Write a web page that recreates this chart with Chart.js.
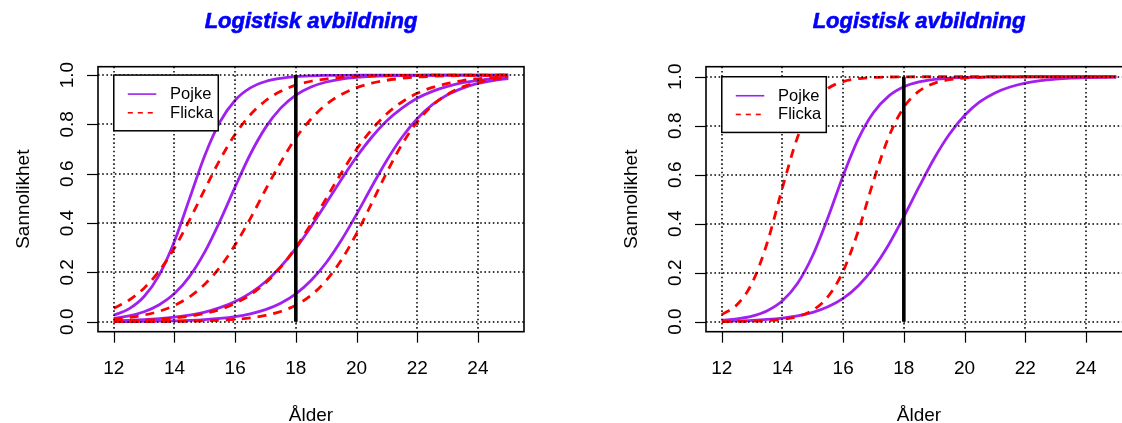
<!DOCTYPE html>
<html>
<head>
<meta charset="utf-8">
<script src="https://cdn.jsdelivr.net/npm/chart.js@4.4.1/dist/chart.umd.min.js"></script>
<style>
html, body { margin: 0; padding: 0; background: #fff; overflow: hidden; }
#wrap { position: relative; width: 1122px; height: 423px; overflow: hidden; }
canvas { position: absolute; top: 0; }
#left { left: 0; }
#right { left: 608px; }
</style>
</head>
<body>
<div id="wrap">
  <canvas id="left" width="608" height="423"></canvas>
  <canvas id="right" width="608" height="423"></canvas>
</div>
<script>
const ages = [12, 12.5, 13, 13.5, 14, 14.5, 15, 15.5, 16, 16.5, 17, 17.5, 18, 18.5,
              19, 19.5, 20, 20.5, 21, 21.5, 22, 22.5, 23, 23.5, 24, 24.5, 25];
const xTicks = [12, 14, 16, 18, 20, 22, 24];
const yTicks = [0, 0.2, 0.4, 0.6, 0.8, 1.0];
const yTickLabels = ['0.0', '0.2', '0.4', '0.6', '0.8', '1.0'];
const titleText = 'Logistisk avbildning';
const xTitle = 'Ålder';
const yTitle = 'Sannolikhet';
const legendLabels = ['Pojke', 'Flicka'];
const cutAge = 18;

// left panel
const leftPojke1 = [0.026, 0.052, 0.102, 0.190, 0.326, 0.500, 0.674, 0.810, 0.898, 0.948, 0.974, 0.987, 0.994, 0.997,
                    0.9985, 0.999, 0.9995, 0.9997, 0.9998, 0.9999, 1, 1, 1, 1, 1, 1, 1];
const leftPojke2 = [0.0135, 0.0234, 0.0403, 0.0685, 0.114, 0.184, 0.283, 0.408, 0.547, 0.679, 0.787, 0.866, 0.919, 0.952,
                    0.972, 0.984, 0.991, 0.995, 0.997, 0.998, 0.999, 0.9994, 0.9997, 0.9998, 0.9999, 1, 1];
const leftPojke3 = [0.0039, 0.0058, 0.0085, 0.0125, 0.0183, 0.0269, 0.039, 0.057, 0.082, 0.116, 0.162, 0.223, 0.297, 0.385,
                    0.480, 0.577, 0.668, 0.748, 0.815, 0.866, 0.906, 0.934, 0.954, 0.969, 0.979, 0.985, 0.990];
const leftPojke4 = [0.0006, 0.0009, 0.0014, 0.0022, 0.0035, 0.0054, 0.0085, 0.0133, 0.0206, 0.032, 0.049, 0.075, 0.113, 0.167,
                    0.239, 0.330, 0.435, 0.547, 0.655, 0.748, 0.823, 0.880, 0.920, 0.947, 0.966, 0.978, 0.986];
const leftFlicka1 = [0.055, 0.087, 0.136, 0.206, 0.299, 0.413, 0.537, 0.657, 0.760, 0.839, 0.896, 0.934, 0.959, 0.975,
                     0.984, 0.991, 0.994, 0.9965, 0.998, 0.9987, 0.999, 0.9995, 0.9997, 0.9998, 0.9999, 1, 1];
const leftFlicka2 = [0.0109, 0.0171, 0.0271, 0.0423, 0.066, 0.101, 0.152, 0.221, 0.312, 0.418, 0.535, 0.646, 0.745, 0.822,
                     0.881, 0.921, 0.949, 0.967, 0.979, 0.987, 0.992, 0.995, 0.997, 0.998, 0.9987, 0.9992, 0.9995];
const leftFlicka3 = [0.0028, 0.0042, 0.0064, 0.0097, 0.0148, 0.0223, 0.0336, 0.050, 0.0744, 0.109, 0.157, 0.221, 0.301, 0.397,
                     0.500, 0.603, 0.699, 0.779, 0.843, 0.891, 0.926, 0.950, 0.966, 0.978, 0.985, 0.990, 0.9936];
const leftFlicka4 = [0.0002, 0.0003, 0.0004, 0.0007, 0.0012, 0.002, 0.0034, 0.0056, 0.0093, 0.0154, 0.0253, 0.0415, 0.067, 0.107,
                     0.167, 0.250, 0.357, 0.480, 0.606, 0.719, 0.810, 0.877, 0.922, 0.952, 0.970, 0.982, 0.989];

// right panel
const rightPojke1 = [0.0059, 0.0117, 0.023, 0.045, 0.0855, 0.157, 0.271, 0.425, 0.596, 0.746, 0.854, 0.921, 0.959, 0.979,
                     0.989, 0.9946, 0.9973, 0.9986, 0.9993, 0.9997, 1, 1, 1, 1, 1, 1, 1];
const rightPojke2 = [0.0021, 0.0034, 0.0055, 0.009, 0.0146, 0.0236, 0.038, 0.0606, 0.095, 0.147, 0.219, 0.314, 0.428, 0.550,
                     0.666, 0.765, 0.842, 0.897, 0.934, 0.958, 0.974, 0.984, 0.990, 0.994, 0.9963, 0.9977, 0.9986];
const rightFlicka1 = [0.0285, 0.069, 0.158, 0.323, 0.547, 0.754, 0.886, 0.952, 0.980, 0.992, 0.997, 0.9988, 0.9995, 1,
                      1, 1, 1, 1, 1, 1, 1, 1, 1, 1, 1, 1, 1];
const rightFlicka2 = [0.0004, 0.0008, 0.0018, 0.0042, 0.0095, 0.0213, 0.047, 0.102, 0.206, 0.371, 0.574, 0.754, 0.875, 0.941,
                      0.973, 0.988, 0.9948, 0.9977, 0.999, 0.9996, 1, 1, 1, 1, 1, 1, 1];

const PURPLE = '#A020F0';
const RED = '#FF0000';
const FONT = '"Liberation Sans", Arial, Helvetica, sans-serif';

function pts(vals) {
  return ages.map((a, i) => ({ x: a, y: vals[i] }));
}

function pojke(vals) {
  return { data: pts(vals), borderColor: PURPLE, borderWidth: 2.8, order: 3 };
}
function flicka(vals) {
  return { data: pts(vals), borderColor: RED, borderWidth: 2.8, borderDash: [9, 7], order: 2 };
}
function cutLine() {
  return { data: [{ x: cutAge, y: 0 }, { x: cutAge, y: 1 }], borderColor: '#000',
           borderWidth: 3.6, cubicInterpolationMode: 'default', order: 1 };
}

function seg(ctx, x1, y1, x2, y2) {
  ctx.beginPath(); ctx.moveTo(x1, y1); ctx.lineTo(x2, y2); ctx.stroke();
}

const rPlot = {
  id: 'rPlot',
  afterDatasetsDraw(chart) {
    const { ctx, chartArea: a, scales: { x, y } } = chart;
    ctx.save();
    // dotted grid
    ctx.strokeStyle = '#000';
    ctx.lineWidth = 1.5;
    ctx.setLineDash([1.6, 2.6]);
    xTicks.forEach(v => {
      const px = Math.round(x.getPixelForValue(v));
      seg(ctx, px, a.top, px, a.bottom);
    });
    yTicks.forEach(v => {
      const py = Math.round(y.getPixelForValue(v));
      seg(ctx, a.left, py, a.right, py);
    });
    ctx.setLineDash([]);

    // legend
    const lx = x.getPixelForValue(12), ly = y.getPixelForValue(1);
    const lw = 104.5, lh = 55.7;
    ctx.fillStyle = '#fff';
    ctx.fillRect(lx, ly, lw, lh);
    ctx.lineWidth = 1.5;
    ctx.strokeRect(lx, ly, lw, lh);
    ctx.lineWidth = 1.6;
    ctx.strokeStyle = PURPLE;
    seg(ctx, lx + 14, ly + 19, lx + 42.5, ly + 19);
    ctx.strokeStyle = RED;
    ctx.setLineDash([5, 5]);
    seg(ctx, lx + 14, ly + 37.7, lx + 42.5, ly + 37.7);
    ctx.setLineDash([]);
    ctx.fillStyle = '#000';
    ctx.font = '16.5px ' + FONT;
    ctx.textBaseline = 'middle';
    ctx.textAlign = 'left';
    ctx.fillText(legendLabels[0], lx + 56.3, ly + 19.5);
    ctx.fillText(legendLabels[1], lx + 56.3, ly + 38.2);
    ctx.restore();
  },
  afterDraw(chart) {
    const { ctx, chartArea: a, scales: { x, y } } = chart;
    ctx.save();
    ctx.strokeStyle = '#000';
    ctx.fillStyle = '#000';
    // box
    ctx.lineWidth = 1.6;
    ctx.strokeRect(a.left, a.top, a.right - a.left, a.bottom - a.top);
    // tick marks
    ctx.lineWidth = 1.2;
    xTicks.forEach(v => {
      const px = Math.round(x.getPixelForValue(v)) + 0.5;
      seg(ctx, px, a.bottom, px, a.bottom + 11);
    });
    yTicks.forEach(v => {
      const py = Math.round(y.getPixelForValue(v)) + 0.5;
      seg(ctx, a.left, py, a.left - 11, py);
    });
    // tick labels
    ctx.font = '19px ' + FONT;
    ctx.textAlign = 'center';
    ctx.textBaseline = 'alphabetic';
    xTicks.forEach(v => ctx.fillText(String(v), x.getPixelForValue(v), 373.5));
    yTicks.forEach((v, i) => {
      ctx.save();
      ctx.translate(72.5, y.getPixelForValue(v));
      ctx.rotate(-Math.PI / 2);
      ctx.fillText(yTickLabels[i], 0, 0);
      ctx.restore();
    });
    // axis titles
    const cx = (a.left + a.right) / 2;
    ctx.fillText(xTitle, cx, 420.5);
    ctx.save();
    ctx.translate(28.5, (a.top + a.bottom) / 2);
    ctx.rotate(-Math.PI / 2);
    ctx.fillText(yTitle, 0, 0);
    ctx.restore();
    // title
    ctx.font = 'italic bold 22px ' + FONT;
    ctx.fillStyle = '#0000FF';
    ctx.strokeStyle = '#0000FF';
    ctx.lineWidth = 0.6;
    ctx.fillText(titleText, cx, 28);
    ctx.strokeText(titleText, cx, 28);
    ctx.restore();
  }
};

function makeChart(id, datasets, yMin, yMax) {
  return new Chart(document.getElementById(id), {
    type: 'line',
    data: { datasets: datasets },
    options: {
      responsive: false,
      animation: false,
      devicePixelRatio: 1,
      layout: { padding: { left: 0, top: 66.7, right: 84, bottom: 0 } },
      elements: {
        point: { radius: 0 },
        line: { cubicInterpolationMode: 'monotone', fill: false }
      },
      plugins: { legend: { display: false }, tooltip: { enabled: false }, title: { display: false } },
      scales: {
        x: {
          type: 'linear', min: 11.48, max: 25.52,
          grid: { display: false }, border: { display: false },
          ticks: { display: false },
          afterBuildTicks: s => { s.ticks = xTicks.map(v => ({ value: v })); },
          afterFit: s => { s.height = 91.3; }
        },
        y: {
          type: 'linear', min: yMin, max: yMax,
          grid: { display: false }, border: { display: false },
          ticks: { display: false },
          afterBuildTicks: s => { s.ticks = yTicks.map(v => ({ value: v })); },
          afterFit: s => { s.width = 98; }
        }
      }
    },
    plugins: [rPlot]
  });
}

makeChart('left', [
  pojke(leftPojke1), pojke(leftPojke2), pojke(leftPojke3), pojke(leftPojke4),
  flicka(leftFlicka1), flicka(leftFlicka2), flicka(leftFlicka3), flicka(leftFlicka4),
  cutLine()
], -0.0405, 1.034);

makeChart('right', [
  pojke(rightPojke1), pojke(rightPojke2),
  flicka(rightFlicka1), flicka(rightFlicka2),
  cutLine()
], -0.041, 1.041);
</script>
</body>
</html>
